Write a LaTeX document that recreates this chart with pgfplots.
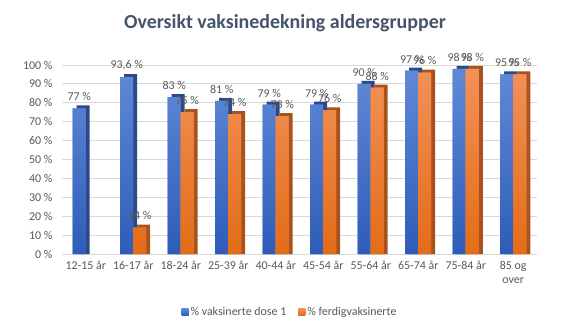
\documentclass[border=0pt]{standalone}
\usepackage{fontspec}
\setmainfont{Carlito}
\usepackage{pgfplots}
\pgfplotsset{compat=1.18}
\definecolor{txt}{HTML}{595959}
\definecolor{ttl}{HTML}{44546A}
\definecolor{gridc}{HTML}{D9D9D9}
\definecolor{bluetop}{HTML}{6189D6}
\definecolor{bluebot}{HTML}{2E5CB8}
\definecolor{bluedark}{HTML}{2B4A8A}
\definecolor{orgtop}{HTML}{F39158}
\definecolor{orgbot}{HTML}{E36C17}
\definecolor{orgdark}{HTML}{A9521C}
\pgfplotstableread{
x d1
0 77
1 93.6
2 83
3 81
4 79
5 79
6 90
7 97
8 98
9 95
}\doseone
\pgfplotstableread{
x d2
1 14
2 75
3 74
4 73
5 76
6 88
7 96
8 98
9 95
}\ferdig
\begin{document}
\begin{tikzpicture}
\begin{axis}[
  at={(0,0)}, anchor=south west,
  scale only axis, width=475bp, height=189bp,
  ybar=0pt, bar width=13bp,
  xmin=-0.5, xmax=9.5, ymin=0, ymax=100,
  xtick={0,...,9},
  xticklabels={12-15 år,16-17 år,18-24 år,25-39 år,40-44 år,45-54 år,55-64 år,65-74 år,75-84 år,{85 og\\over}},
  xticklabel style={align=center, font=\fontsize{12}{14}\selectfont, text=txt, yshift=-4bp},
  ytick={0,10,...,100},
  yticklabel={\pgfmathprintnumber{\tick}~\%},
  yticklabel style={font=\fontsize{12}{14}\selectfont, text=txt, xshift=-6bp},
  /pgf/number format/assume math mode=true,
  ymajorgrids, grid style={draw=gridc, line width=0.8bp},
  axis line style={draw=none},
  major tick length=0,
  every node near coord/.append style={font=\fontsize{12}{14}\selectfont, text=txt, yshift=4bp},
  legend style={at={(0.48,-0.307)}, anchor=center, draw=none, legend columns=2,
    font=\fontsize{12}{14}\selectfont, text=txt,
    /tikz/every even column/.append style={column sep=10bp}},
  legend image code/.code={\fill[#1] (0bp,-3.5bp) rectangle (7bp,3.5bp);},
  clip=false,
]
% blue back (3D depth)
\addplot[forget plot, draw=none, fill=bluedark, bar shift=-2.5bp, y filter/.expression={y+1.6}] table[x=x,y=d1] {\doseone};
% blue front
\addplot[draw=none, bottom color=bluebot, top color=bluetop, fill=bluetop, bar shift=-6.5bp,
  nodes near coords={\pgfmathprintnumber[fixed, precision=1, use comma]{\pgfplotspointmeta}~\%}] table[x=x,y=d1] {\doseone};
\addlegendentry{\% vaksinerte dose 1}
% orange back
\addplot[forget plot, draw=none, fill=orgdark, bar shift=10.5bp, y filter/.expression={y+1.6}] table[x=x,y=d2] {\ferdig};
% orange front
\addplot[draw=none, bottom color=orgbot, top color=orgtop, fill=orgtop, bar shift=6.5bp,
  nodes near coords={\pgfmathprintnumber[fixed, precision=1, use comma]{\pgfplotspointmeta}~\%}] table[x=x,y=d2] {\ferdig};
\addlegendentry{\% ferdigvaksinerte}
\end{axis}
\node[font=\fontsize{20}{24}\bfseries\selectfont, text=ttl] at (223bp,231bp) {Oversikt vaksinedekning aldersgrupper};
\pgfresetboundingbox
\useasboundingbox (-62bp,-80bp) rectangle (503bp,254bp);
\end{tikzpicture}
\end{document}
